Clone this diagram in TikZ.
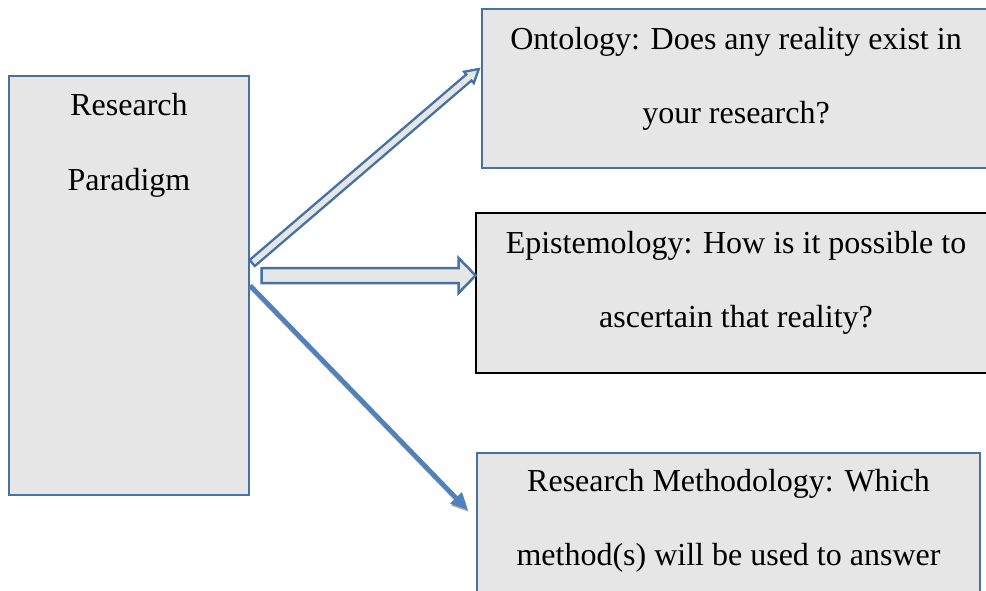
\documentclass[tikz,border=0pt]{standalone}
\usepackage{fontspec}
\setmainfont{Liberation Serif}
\usetikzlibrary{calc,arrows.meta}
\definecolor{edgeblue}{HTML}{4672A3}
\definecolor{arrowblue}{HTML}{4F81BD}
\definecolor{boxgray}{HTML}{E6E6E6}
\definecolor{shadowgray}{HTML}{A6A6A6}
\begin{document}
\begin{tikzpicture}[x=1pt,y=-1pt,
  box/.style={draw=edgeblue,fill=boxgray,line width=2.4pt,rectangle,inner sep=0pt},
  txt/.style={inner sep=0pt,anchor=base,font=\fontsize{32}{38}\selectfont},
  hollow/.style={draw=edgeblue,fill=boxgray,line width=2.3pt,line join=miter},
  solidarrow/.style={line width=4.5pt,-{Triangle[length=17pt,width=15pt]}},
]
\useasboundingbox (0,0) rectangle (986,590);

% boxes
\node[box, minimum width=240pt, minimum height=419pt] (rp) at (129,285.5) {};
\node[box, minimum width=508pt, minimum height=159pt] (ont) at (736,88.5) {};
\node[box, draw=black, line width=2.8pt, minimum width=520pt, minimum height=160pt] (epi) at (736,293) {};
\node[box, minimum width=503pt, minimum height=167pt] (rm) at (728.5,536.5) {};

% texts
\node[txt] (rp1) at (129,115) {Research};
\node[txt] (rp2) at (129,190) {Paradigm};
\node[txt] (ont1) at (736,49) {Ontology: Does any reality exist in};
\node[txt] (ont2) at (736,123) {your research?};
\node[txt] (epi1) at (736,253) {Epistemology: How is it possible to};
\node[txt] (epi2) at (736,327.5) {ascertain that reality?};
\node[txt] (rm1) at (728.5,491) {Research Methodology: Which};
\node[txt] (rm2) at (728.5,565) {method(s) will be used to answer};

% hollow arrow to ontology
\coordinate (a1s) at ($(rp.east)+(2,-22.5)$);
\coordinate (a1e) at ($(ont.west)+(-2,-19.5)$);
\coordinate (a1h) at ($(a1e)!13pt!(a1s)$);
\draw[hollow] ($(a1s)!4pt!90:(a1e)$) -- ($(a1h)!4pt!90:(a1e)$) -- ($(a1h)!7.5pt!90:(a1e)$)
  -- (a1e) -- ($(a1h)!7.5pt!-90:(a1e)$) -- ($(a1h)!4pt!-90:(a1e)$) -- ($(a1s)!4pt!-90:(a1e)$) -- cycle;

% block arrow to epistemology
\coordinate (a2s) at ($(rp.east)+(11.5,-10)$);
\coordinate (a2e) at ($(epi.west)+(1,-17.5)$);
\draw[hollow, line width=2.5pt] ($(a2s)+(0,-7.5)$) -- ($(a2e)+(-17,-7.5)$) -- ($(a2e)+(-17,-17.5)$)
  -- (a2e) -- ($(a2e)+(-17,17.5)$) -- ($(a2e)+(-17,7.5)$) -- ($(a2s)+(0,7.5)$) -- cycle;

% solid arrow towards research methodology, with its shadow
\coordinate (a3s) at (rp.east);
\coordinate (a3e) at ($(rm.west)+(-8,-26.5)$);
\draw[shadowgray, solidarrow] ([shift={(1,2)}]a3s) -- ([shift={(1,2)}]a3e);
\draw[arrowblue, solidarrow] (a3s) -- (a3e);
\end{tikzpicture}
\end{document}
